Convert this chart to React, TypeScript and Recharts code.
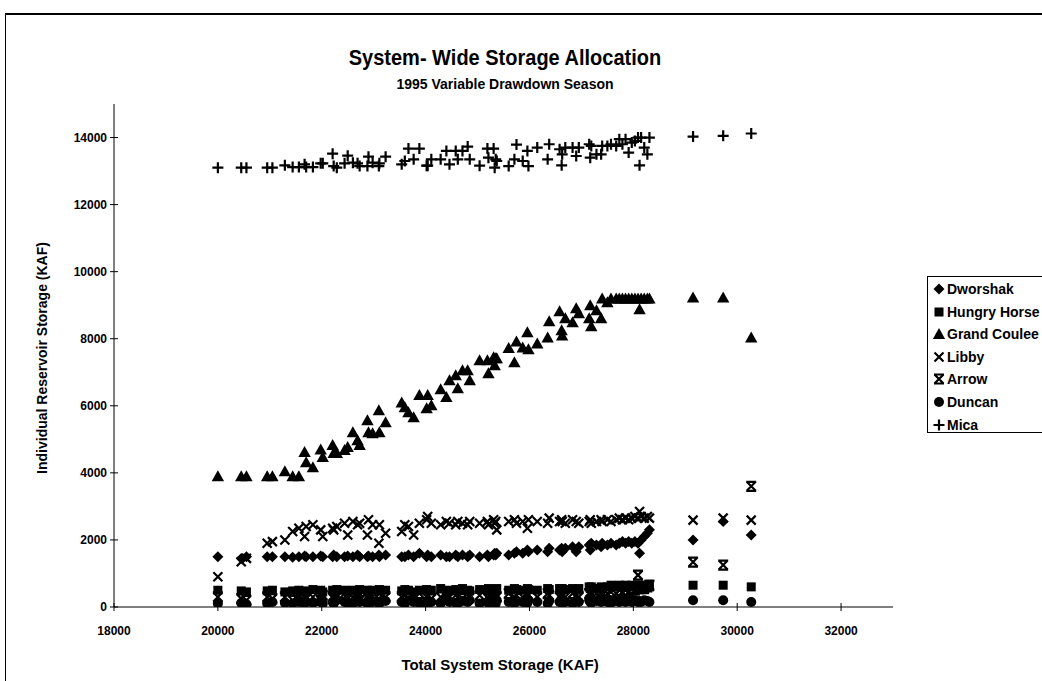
import React from 'react';
import { ScatterChart, Scatter, XAxis, YAxis } from 'recharts';

const FONT = "'Liberation Sans', Arial, Helvetica, sans-serif";

const TITLE = 'System- Wide Storage Allocation';
const SUBTITLE = '1995 Variable Drawdown Season';
const X_TITLE = 'Total System Storage (KAF)';
const Y_TITLE = 'Individual Reservoir Storage (KAF)';

const X_TICKS = [18000, 20000, 22000, 24000, 26000, 28000, 30000, 32000];
const Y_TICKS = [0, 2000, 4000, 6000, 8000, 10000, 12000, 14000];

const TOTAL_STORAGE = [
  20000, 20450, 20550, 20950, 21050, 21290, 21440, 21560, 21670, 21700,
  21830, 21980, 22020, 22210, 22230, 22290, 22440, 22500, 22600, 22690,
  22730, 22880, 22900, 22980, 23100, 23110, 23230, 23540, 23600, 23670,
  23770, 23880, 24020, 24040, 24110, 24290, 24400, 24460, 24580, 24620,
  24710, 24810, 24850, 25040, 25190, 25210, 25310, 25330, 25350, 25370,
  25600, 25710, 25750, 25870, 25960, 25980, 26150, 26350, 26380, 26580,
  26620, 26630, 26690, 26830, 26900, 26950, 27150, 27170, 27190, 27290,
  27380, 27400, 27500, 27570, 27670, 27730, 27790, 27850, 27910, 27970,
  28030, 28090, 28120, 28150, 28210, 28270, 28310, 29150, 29730, 30270,
];

const DWORSHAK = [
  1500, 1450, 1500, 1500, 1500, 1500, 1480, 1500, 1520, 1500,
  1500, 1520, 1500, 1500, 1550, 1500, 1500, 1520, 1500, 1550,
  1500, 1500, 1520, 1500, 1550, 1500, 1550, 1500, 1500, 1550,
  1500, 1600, 1500, 1550, 1500, 1550, 1500, 1500, 1550, 1500,
  1550, 1500, 1550, 1500, 1550, 1500, 1550, 1600, 1550, 1600,
  1550, 1600, 1650, 1600, 1700, 1650, 1700, 1650, 1750, 1700,
  1750, 1650, 1750, 1800, 1650, 1800, 1850, 1700, 1900, 1850,
  1800, 1900, 1850, 1900, 1850, 1900, 1950, 1900, 1950, 1900,
  1950, 1900, 1600, 2000, 2100, 2200, 2300, 2000, 2550, 2150,
];

const HUNGRY_HORSE = [
  500, 480, 450, 480, 500, 450, 480, 500, 450, 480,
  520, 500, 450, 500, 480, 520, 500, 450, 500, 480,
  520, 500, 450, 500, 480, 520, 500, 480, 520, 500,
  450, 500, 520, 480, 500, 550, 500, 480, 520, 500,
  550, 500, 480, 520, 500, 550, 500, 520, 480, 550,
  500, 550, 520, 500, 550, 520, 500, 550, 520, 550,
  500, 550, 520, 550, 500, 550, 600, 550, 600, 550,
  600, 550, 600, 650, 600, 650, 600, 650, 600, 650,
  600, 650, 600, 650, 600, 650, 600, 650, 650, 600,
];

const GRAND_COULEE = [
  3900, 3900, 3900, 3900, 3900, 4050, 3900, 3900, 4620, 4320,
  4170, 4700, 4470, 4830, 4590, 4590, 4680, 4770, 5210, 4970,
  4830, 5570, 5210, 5180, 5870, 5210, 5510, 6100, 5960, 5810,
  5660, 6320, 5930, 6320, 6020, 6490, 6260, 6760, 6910, 6520,
  7060, 7060, 6760, 7360, 7360, 6970, 7450, 7210, 7420, 7420,
  7720, 7300, 7920, 7740, 8190, 7690, 7860, 8040, 8520, 8820,
  8250, 8100, 8610, 8490, 8910, 8760, 8610, 9000, 8370, 8850,
  8610, 9200, 9090, 9200, 9200, 9200, 9200, 9200, 9200, 9200,
  9200, 9200, 8880, 9200, 9200, 9200, 9200, 9230, 9230, 8040,
];

const LIBBY = [
  900, 1350, 1450, 1900, 1950, 2000, 2250, 2350, 2100, 2400,
  2450, 2300, 2100, 2350, 2300, 2400, 2500, 2150, 2550, 2450,
  2500, 2150, 2600, 2450, 1900, 2450, 2200, 2250, 2450, 2400,
  2150, 2500, 2600, 2700, 2500, 2450, 2550, 2500, 2450, 2550,
  2500, 2450, 2550, 2500, 2550, 2450, 2600, 2500, 2550, 2300,
  2550, 2600, 2500, 2550, 2350, 2600, 2550, 2500, 2650, 2550,
  2600, 2550, 2500, 2600, 2550, 2500, 2550, 2600, 2500, 2550,
  2600, 2550, 2600, 2550, 2600, 2650, 2600, 2650, 2600, 2650,
  2700, 2650, 2850, 2700, 2650, 2700, 2650, 2590, 2650, 2590,
];

const ARROW = [
  300, 250, 200, 300, 250, 300, 200, 350, 350, 250,
  300, 200, 350, 300, 250, 300, 400, 250, 300, 350,
  200, 300, 350, 300, 250, 400, 300, 300, 350, 250,
  300, 400, 300, 350, 250, 300, 400, 300, 350, 300,
  250, 400, 300, 350, 300, 250, 400, 300, 350, 300,
  400, 300, 350, 300, 400, 350, 300, 400, 350, 300,
  400, 350, 300, 400, 350, 300, 400, 450, 350, 400,
  450, 350, 400, 450, 400, 500, 450, 500, 450, 550,
  500, 950, 550, 600, 550, 600, 650, 1340, 1250, 3600,
];

const DUNCAN = [
  100, 120, 80, 100, 150, 120, 100, 150, 100, 150,
  120, 180, 100, 150, 100, 200, 150, 120, 100, 180,
  150, 100, 200, 150, 120, 100, 180, 150, 100, 200,
  150, 120, 100, 180, 150, 100, 200, 150, 120, 100,
  180, 150, 200, 100, 150, 120, 180, 150, 100, 200,
  150, 100, 180, 150, 120, 200, 150, 100, 180, 150,
  200, 120, 150, 100, 180, 150, 200, 150, 120, 180,
  150, 200, 150, 120, 180, 150, 200, 150, 180, 150,
  200, 150, 180, 150, 200, 180, 150, 200, 200, 150,
];

const MICA = [
  13100, 13100, 13100, 13100, 13100, 13170, 13120, 13120, 13200, 13120,
  13120, 13230, 13230, 13520, 13150, 13100, 13230, 13460, 13250, 13230,
  13150, 13150, 13430, 13250, 13150, 13230, 13430, 13200, 13300, 13670,
  13350, 13670, 13160, 13160, 13350, 13350, 13600, 13200, 13600, 13350,
  13600, 13730, 13350, 13160, 13670, 13400, 13670, 13100, 13350, 13300,
  13150, 13350, 13790, 13300, 13600, 13150, 13700, 13350, 13800, 13650,
  13170, 13500, 13700, 13700, 13450, 13700, 13800, 13400, 13750, 13500,
  13500, 13750, 13750, 13800, 13750, 13950, 13800, 13950, 13550, 13850,
  13900, 14000, 13170, 14000, 13700, 13500, 14000, 14030, 14050, 14120,
];

type Kind = 'diamond' | 'square' | 'triangle' | 'x' | 'star' | 'circle' | 'plus';

const SERIES: { name: string; values: number[]; kind: Kind }[] = [
  { name: 'Dworshak', values: DWORSHAK, kind: 'diamond' },
  { name: 'Hungry Horse', values: HUNGRY_HORSE, kind: 'square' },
  { name: 'Grand Coulee', values: GRAND_COULEE, kind: 'triangle' },
  { name: 'Libby', values: LIBBY, kind: 'x' },
  { name: 'Arrow', values: ARROW, kind: 'star' },
  { name: 'Duncan', values: DUNCAN, kind: 'circle' },
  { name: 'Mica', values: MICA, kind: 'plus' },
];

function Marker({ cx, cy, kind }: { cx: number; cy: number; kind: Kind }) {
  if (cx == null || cy == null || isNaN(cx) || isNaN(cy)) return null;
  switch (kind) {
    case 'diamond':
      return <path d={`M${cx},${cy - 5.5}L${cx + 5.5},${cy}L${cx},${cy + 5.5}L${cx - 5.5},${cy}Z`} fill="#000" />;
    case 'square':
      return <rect x={cx - 4.5} y={cy - 4.5} width={9} height={9} fill="#000" />;
    case 'triangle':
      return <path d={`M${cx},${cy - 6}L${cx + 6.2},${cy + 5}L${cx - 6.2},${cy + 5}Z`} fill="#000" />;
    case 'x':
      return (
        <path
          d={`M${cx - 4.5},${cy - 4.5}L${cx + 4.5},${cy + 4.5}M${cx + 4.5},${cy - 4.5}L${cx - 4.5},${cy + 4.5}`}
          stroke="#000"
          strokeWidth={2.2}
          fill="none"
        />
      );
    case 'star':
      return (
        <path
          d={`M${cx - 4.5},${cy - 4.5}L${cx + 4.5},${cy + 4.5}M${cx + 4.5},${cy - 4.5}L${cx - 4.5},${cy + 4.5}M${cx - 5},${cy - 4.5}L${cx + 5},${cy - 4.5}M${cx - 5},${cy + 4.5}L${cx + 5},${cy + 4.5}`}
          stroke="#000"
          strokeWidth={2.2}
          fill="none"
        />
      );
    case 'circle':
      return <circle cx={cx} cy={cy} r={5} fill="#000" />;
    case 'plus':
    default:
      return (
        <path
          d={`M${cx - 5.5},${cy}L${cx + 5.5},${cy}M${cx},${cy - 5.5}L${cx},${cy + 5.5}`}
          stroke="#000"
          strokeWidth={2.2}
          fill="none"
        />
      );
  }
}

const YTick = (props: any) => {
  const { x, y, payload } = props;
  const axisX = x + 7;
  return (
    <g>
      <line x1={axisX - 4} x2={axisX + 4} y1={y} y2={y} stroke="#000" strokeWidth={1} />
      <text x={axisX - 7} y={y + 4} textAnchor="end" fontFamily={FONT} fontWeight="bold" fontSize={12} fill="#000">
        {payload.value}
      </text>
    </g>
  );
};

const XTick = (props: any) => {
  const { x, y, payload } = props;
  const axisY = y - 7;
  return (
    <g>
      <line x1={x} x2={x} y1={axisY - 4} y2={axisY + 4} stroke="#000" strokeWidth={1} />
      <text x={x} y={axisY + 28} textAnchor="middle" fontFamily={FONT} fontWeight="bold" fontSize={12} fill="#000">
        {payload.value}
      </text>
    </g>
  );
};

export default function App() {
  const W = 1042;
  const H = 681;
  return (
    <div style={{ position: 'absolute', left: 0, top: 0, width: W, height: H, overflow: 'hidden', background: '#fff' }}>
      <div
        style={{
          position: 'absolute',
          left: 5,
          top: 13,
          width: W - 5,
          height: H - 13,
          borderTop: '2px solid #000',
          borderLeft: '1.5px solid #000',
          boxSizing: 'border-box',
        }}
      />
      <div style={{ position: 'absolute', left: 0, top: 0 }}>
        <ScatterChart width={W} height={H} margin={{ top: 104, right: 149, bottom: 44, left: 54 }}>
          <XAxis
            type="number"
            dataKey="x"
            domain={[18000, 33000]}
            ticks={X_TICKS}
            interval={0}
            allowDataOverflow
            height={30}
            tickSize={4}
            tickMargin={3}
            tickLine={false}
            axisLine={{ stroke: '#000', strokeWidth: 1 }}
            tick={<XTick />}
          />
          <YAxis
            type="number"
            dataKey="y"
            domain={[0, 15000]}
            ticks={Y_TICKS}
            interval={0}
            allowDataOverflow
            width={60}
            tickSize={4}
            tickMargin={3}
            tickLine={false}
            axisLine={{ stroke: '#000', strokeWidth: 1 }}
            tick={<YTick />}
          />
          {SERIES.map((s) => (
            <Scatter
              key={s.name}
              name={s.name}
              data={TOTAL_STORAGE.map((x, i) => ({ x, y: s.values[i] }))}
              isAnimationActive={false}
              shape={(p: any) => <Marker cx={p.cx} cy={p.cy} kind={s.kind} />}
            />
          ))}
        </ScatterChart>
      </div>
      <div
        style={{
          position: 'absolute',
          left: 205,
          width: 600,
          top: 46,
          textAlign: 'center',
          fontFamily: FONT,
          fontWeight: 'bold',
          fontSize: 20,
          lineHeight: '22px',
          color: '#000',
          transform: 'scaleY(1.12)',
        }}
      >
        {TITLE}
      </div>
      <div
        style={{
          position: 'absolute',
          left: 205,
          width: 600,
          top: 76,
          textAlign: 'center',
          fontFamily: FONT,
          fontWeight: 'bold',
          fontSize: 14,
          lineHeight: '16px',
          color: '#000',
        }}
      >
        {SUBTITLE}
      </div>
      <div
        style={{
          position: 'absolute',
          left: 300,
          width: 400,
          top: 656,
          textAlign: 'center',
          fontFamily: FONT,
          fontWeight: 'bold',
          fontSize: 15,
          lineHeight: '18px',
          color: '#000',
        }}
      >
        {X_TITLE}
      </div>
      <div
        style={{
          position: 'absolute',
          left: 42 - 150,
          width: 300,
          top: 358 - 9,
          textAlign: 'center',
          fontFamily: FONT,
          fontWeight: 'bold',
          fontSize: 14,
          lineHeight: '18px',
          color: '#000',
          transform: 'rotate(-90deg)',
          transformOrigin: '50% 50%',
        }}
      >
        {Y_TITLE}
      </div>
      <div
        style={{
          position: 'absolute',
          left: 927,
          top: 276,
          width: W - 927,
          height: 157,
          borderTop: '1.5px solid #000',
          borderLeft: '1.5px solid #000',
          borderBottom: '1.5px solid #000',
          boxSizing: 'border-box',
          background: '#fff',
        }}
      >
        {SERIES.map((s, i) => (
          <div
            key={s.name}
            style={{
              position: 'absolute',
              left: 5,
              top: 3 + i * 22.6,
              height: 18,
              display: 'flex',
              alignItems: 'center',
              whiteSpace: 'nowrap',
              fontFamily: FONT,
              fontWeight: 'bold',
              fontSize: 14,
              color: '#000',
            }}
          >
            <svg width={12} height={12} style={{ marginRight: 2 }}>
              <Marker cx={6} cy={6} kind={s.kind} />
            </svg>
            <span>{s.name}</span>
          </div>
        ))}
      </div>
    </div>
  );
}
